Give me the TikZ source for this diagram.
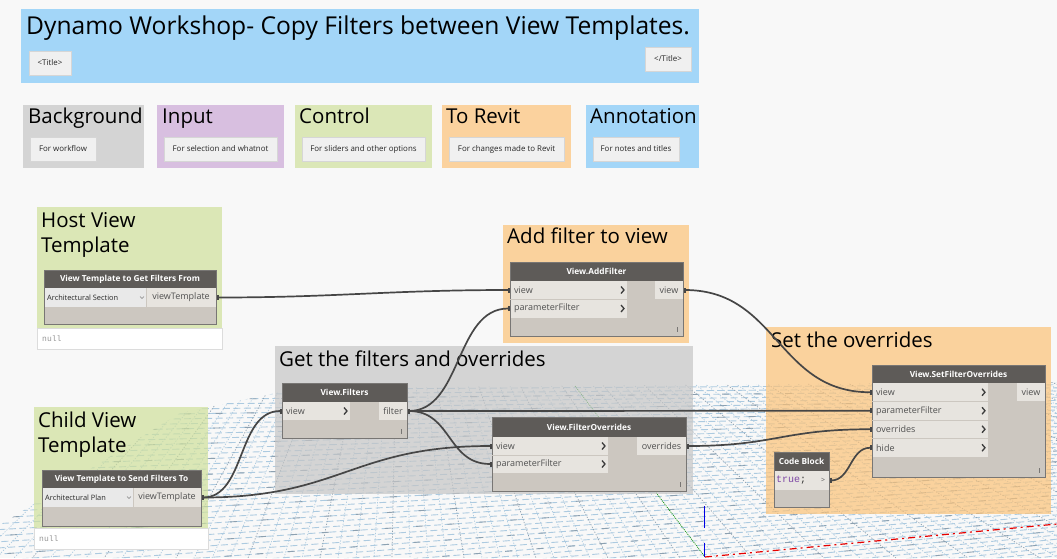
\documentclass[tikz,border=0pt]{standalone}
\usepackage{fontspec}
\setmainfont{Open Sans}
\newfontfamily\codefont{Liberation Mono}
\usetikzlibrary{arrows.meta}
\definecolor{pagebg}{RGB}{248,248,248}
\definecolor{annblue}{RGB}{163,214,248}
\definecolor{bggray}{RGB}{212,212,212}
\definecolor{inpurple}{RGB}{216,191,224}
\definecolor{ctrlgreen}{RGB}{219,231,183}
\definecolor{revorange}{RGB}{251,210,158}
\definecolor{wgreen}{RGB}{207,224,155}
\definecolor{worange}{RGB}{252,194,119}
\definecolor{wgray}{RGB}{197,197,197}
\definecolor{btnfill}{RGB}{240,240,240}
\definecolor{btnline}{RGB}{214,214,214}
\definecolor{nodebody}{RGB}{204,199,192}
\definecolor{nodehead}{RGB}{94,91,88}
\definecolor{nodeline}{RGB}{120,118,116}
\definecolor{rowfill}{RGB}{231,228,223}
\definecolor{ddfill}{RGB}{233,233,233}
\definecolor{portlbl}{RGB}{80,80,80}
\definecolor{wirec}{RGB}{70,70,70}
\definecolor{gridblue}{RGB}{172,202,224}
\definecolor{griddark}{RGB}{140,160,176}
\definecolor{nullgray}{RGB}{150,150,150}
\definecolor{nullline}{RGB}{220,220,220}
\definecolor{codepurple}{RGB}{125,70,165}
\definecolor{chevc}{RGB}{60,60,60}
\definecolor{axisgreen}{RGB}{0,140,0}
\definecolor{axisblue}{RGB}{0,0,230}
\definecolor{axisred}{RGB}{230,0,0}
\newcommand\pchev[2]{\draw[chevst] ({#1-3},{#2-3.5}) -- (#1,#2) -- ({#1-3},{#2+3.5});}
\newcommand\resmark[2]{\draw[draw=nodeline, line width=0.6pt] ({#1-6},{#2-9}) -- ({#1-6},{#2-4});}
\newcommand\ddvee[2]{\draw[draw=gray, line width=0.5pt] ({#1-2},{#2-1}) -- (#1,{#2+1}) -- ({#1+2},{#2-1});}
\tikzset{
 rbox/.style 2 args={anchor=north west, inner sep=0pt, outer sep=0pt, minimum width=#1pt, minimum height=#2pt},
 grp/.style={draw=none},
 wgrp/.style={fill opacity=0.7, draw=none},
 ghead/.style={anchor=base west, inner sep=0pt, font=\fontsize{20.5}{25}\selectfont, text=black},
 btn/.style={fill=btnfill, draw=btnline, line width=0.6pt, font=\fontsize{7.9}{9}\selectfont, text=black!85},
 nbody/.style={fill=nodebody},
 nframe/.style={draw=nodeline, line width=0.8pt},
 nhead/.style={fill=nodehead, text=white, font=\fontsize{8.3}{10}\selectfont\bfseries},
 nrow/.style={fill=rowfill, text=portlbl, font=\fontsize{9}{11}\selectfont},
 ddrow/.style={fill=ddfill},
 plbl/.style={anchor=west, inner sep=0pt, text=portlbl, font=\fontsize{9}{11}\selectfont},
 ddlbl/.style={anchor=west, inner sep=0pt, text=black!85, font=\fontsize{7.4}{9}\selectfont},
 nullbox/.style={fill=white, draw=nullline, line width=0.6pt},
 nulltxt/.style={anchor=west, inner sep=0pt, text=nullgray, font=\codefont\fontsize{8}{9}\selectfont},
 chevst/.style={draw=chevc, line width=1.3pt},
 wire/.style={draw=wirec, line width=1.7pt, arrows={Rectangle[length=2.5pt,width=5pt]-Rectangle[length=2.5pt,width=5pt]}},
 gridB/.style={line width=0.9pt},
 gridA/.style={line width=0.7pt, dash pattern=on 1.2pt off 1.6pt},
}
\begin{document}
\begin{tikzpicture}[x=1pt,y=-1pt]
\useasboundingbox (0,0) rectangle (1057,558);
\fill[pagebg] (0,0) rectangle (1057,558);
% ---------- perspective grid ----------
\begin{scope}
\clip (0,525) -- (180,413) -- (300,388) -- (1057,382) -- (1057,558) -- (0,558) -- cycle;
\foreach \k in {0,...,50} {
  \pgfmathsetmacro\yo{386+\k*5.0+\k*\k*0.02}
  \pgfmathsetmacro\ph{mod(\k*3.7,10.5)}
  \pgfmathsetmacro\phd{mod(\k*11.3,31.5)}
  \pgfmathtruncatemacro\m{mod(\k,3)}
  \draw[gridB, draw=gridblue, dash pattern=on 7pt off 3.5pt, dash phase=\ph pt] (0,\yo) -- (2700,375);
  \ifnum\m=0
    \draw[gridB, draw=griddark, dash pattern=on 7pt off 24.5pt, dash phase=\phd pt] (0,\yo) -- (2700,375);
  \fi
}
\foreach \k in {0,...,90} {
  \pgfmathsetmacro\xb{-40+\k*18}
  \pgfmathtruncatemacro\m{mod(\k,4)}
  \ifnum\m=0 \def\gc{griddark}\else\def\gc{gridblue}\fi
  \draw[gridA, draw=\gc] (400,150) -- (\xb,558);
}
\end{scope}
\draw[axisgreen, line width=0.7pt, dash pattern=on 1pt off 1pt] (575,386) -- (705,557);
\draw[axisblue, line width=1pt] (704,506) -- (704,528);
\draw[axisblue, line width=1pt] (704,543) -- (704,557);
\draw[axisred, line width=1.2pt, dash pattern=on 7pt off 4pt on 2pt off 4pt] (705,557) -- (1057,524);
% ---------- title and legend ----------
\node[grp, fill=annblue, rbox={678}{74}] (gtitle) at (21,9) {};
\node[anchor=base west, inner sep=0pt, font=\fontsize{24.6}{29}\selectfont] (ttitle) at (26,34) {Dynamo Workshop- Copy Filters between View Templates.};
\node[btn, rbox={42}{24}] (bt1) at (29,51) {<Title>};
\node[btn, rbox={46}{24}] (bt2) at (645,47) {</Title>};
\node[grp, fill=bggray, rbox={121}{63}] (gbg) at (23,105) {};
\node[ghead] (hbg) at (28,123) {Background};
\node[btn, rbox={66}{24}] (bbg) at (30,137) {For workflow};
\node[grp, fill=inpurple, rbox={127}{63}] (ginp) at (157,105) {};
\node[ghead] (hinp) at (162,123) {Input};
\node[btn, rbox={113}{24}] (binp) at (164,137) {For selection and whatnot};
\node[grp, fill=ctrlgreen, rbox={137}{63}] (gctl) at (295,105) {};
\node[ghead] (hctl) at (299,123) {Control};
\node[btn, rbox={123}{24}] (bctl) at (302,137) {For sliders and other options};
\node[grp, fill=revorange, rbox={129}{63}] (grev) at (442,105) {};
\node[ghead] (hrev) at (446,123) {To Revit};
\node[btn, rbox={115}{24}] (brev) at (449,137) {For changes made to Revit};
\node[grp, fill=annblue, rbox={113}{63}] (gann) at (586,105) {};
\node[ghead] (hann) at (590,123) {Annotation};
\node[btn, rbox={86}{24}] (bann) at (593,137) {For notes and titles};
% ---------- workflow groups ----------
\node[wgrp, fill=wgreen, rbox={185}{121}] (ghost) at (37,207) {};
\node[ghead] (hhost1) at (41,227) {Host View};
\node[ghead] (hhost2) at (41,252) {Template};
\node[wgrp, fill=wgreen, rbox={174}{121}] (gchild) at (34,407) {};
\node[ghead] (hchild1) at (38,427) {Child View};
\node[ghead] (hchild2) at (38,452) {Template};
\node[wgrp, fill=worange, rbox={186}{118}] (gadd) at (503,225) {};
\node[ghead] (hadd) at (507,243) {Add filter to view};
\node[wgrp, fill=wgray, rbox={418}{148}] (gget) at (275,346) {};
\node[ghead] (hget) at (279,366) {Get the filters and overrides};
\node[wgrp, fill=worange, rbox={285}{187}] (gset) at (766,327) {};
\node[ghead] (hset) at (771,347) {Set the overrides};
\node[nullbox, rbox={185}{21}] (nullhost) at (37,328) {};
\node[nulltxt] (nullhostt) at (42,338.5) {null};
\node[nullbox, rbox={174}{21}] (nullchild) at (34,528) {};
\node[nulltxt] (nullchildt) at (39,538.5) {null};
% ---------- Dynamo nodes ----------
% Host node
\node[nbody, rbox={172}{54}] (nhost) at (44,270) {};
\node[nhead, rbox={172}{18}] (nhosth) at (44,270) {View Template to Get Filters From};
\node[ddrow, rbox={102}{19}] (nhostdd) at (44,288) {};
\node[ddlbl] (nhostddt) at (47,297.5) {Architectural Section};
\node[nrow, rbox={70}{19}] (nhostout) at (146,288) {viewTemplate};
% Child node
\node[nbody, rbox={159}{56}] (nchild) at (42,470) {};
\node[nhead, rbox={159}{18}] (nchildh) at (42,470) {View Template to Send Filters To};
\node[ddrow, rbox={91}{19}] (nchilddd) at (42,488) {};
\node[ddlbl] (nchildddt) at (45,497.5) {Architectural Plan};
\node[nrow, rbox={68}{19}] (nchildout) at (133,488) {viewTemplate};
% View.AddFilter
\node[nbody, rbox={173}{74}] (naf) at (510,262) {};
\node[nhead, rbox={173}{19}] (nafh) at (510,262) {View.AddFilter};
\node[nrow, rbox={117}{18}] (afi1) at (510,281) {};
\node[nrow, rbox={117}{19}] (afi2) at (510,299) {};
\node[plbl] (afl1) at (514,290) {view};
\node[plbl] (afl2) at (514,308.5) {parameterFilter};
\node[nrow, rbox={28}{18}] (afo1) at (655,281) {view};
% View.Filters
\node[nbody, rbox={125}{55}] (nvf) at (282,383) {};
\node[nhead, rbox={125}{19}] (nvfh) at (282,383) {View.Filters};
\node[nrow, rbox={68}{18}] (vfi1) at (282,402) {};
\node[plbl] (vfl1) at (286,411) {view};
\node[nrow, rbox={28}{18}] (vfo1) at (379,402) {filter};
% View.FilterOverrides
\node[nbody, rbox={194}{74}] (nfo) at (492,417) {};
\node[nhead, rbox={194}{20}] (nfoh) at (492,417) {View.FilterOverrides};
\node[nrow, rbox={116}{18}] (foi1) at (492,437) {};
\node[nrow, rbox={116}{18}] (foi2) at (492,455) {};
\node[plbl] (fol1) at (496,446) {view};
\node[plbl] (fol2) at (496,464) {parameterFilter};
\node[nrow, rbox={49}{18}] (foo1) at (637,437) {overrides};
% View.SetFilterOverrides
\node[nbody, rbox={173}{112}] (nsf) at (872,365) {};
\node[nhead, rbox={173}{18}] (nsfh) at (872,365) {View.SetFilterOverrides};
\node[nrow, rbox={116}{18.5}] (sfi1) at (872,383) {};
\node[nrow, rbox={116}{18.5}] (sfi2) at (872,401.5) {};
\node[nrow, rbox={116}{18.5}] (sfi3) at (872,420) {};
\node[nrow, rbox={116}{18.5}] (sfi4) at (872,438.5) {};
\node[plbl] (sfl1) at (876,392.25) {view};
\node[plbl] (sfl2) at (876,410.75) {parameterFilter};
\node[plbl] (sfl3) at (876,429.25) {overrides};
\node[plbl] (sfl4) at (876,447.75) {hide};
\node[nrow, rbox={28}{18}] (sfo1) at (1017,383) {view};
% Code Block
\node[nbody, rbox={55}{55}] (ncb) at (774,452) {};
\node[nhead, rbox={55}{19}] (ncbh) at (774,452) {Code Block};
\node[nrow, rbox={43}{19}] (cbin) at (774,471) {};
\node[anchor=west, inner sep=0pt, font=\codefont\fontsize{10}{11}\selectfont] (cbt) at (776,480.5) {\textcolor{codepurple}{true}\textcolor{black!80}{;}};
\node[nrow, rbox={12}{19}, font=\fontsize{7}{8}\selectfont] (cbo) at (817,471) {>};
% ---------- wires ----------
\draw[wire] (nhostout.east) .. controls +(120,0) and +(-120,0) .. (afi1.west);
\draw[wire] (nchildout.east) .. controls +(45,0) and +(-45,0) .. (vfi1.west);
\draw[wire] (nchildout.east) .. controls +(140,0) and +(-140,0) .. (foi1.west);
\draw[wire] (vfo1.east) .. controls +(55,0) and +(-55,0) .. (afi2.west);
\draw[wire] (vfo1.east) .. controls +(200,0) and +(-200,0) .. (sfi2.west);
\draw[wire] (vfo1.east) .. controls +(45,0) and +(-45,0) .. (foi2.west);
\draw[wire] (afo1.east) .. controls +(95,0) and +(-95,0) .. (sfi1.west);
\draw[wire] (foo1.east) .. controls +(90,0) and +(-90,0) .. (sfi3.west);
\draw[wire] (cbo.east) .. controls +(22,0) and +(-22,0) .. (sfi4.west);
% ---------- frames, chevrons, marks ----------
\draw[nframe] (nhost.north west) rectangle (nhost.south east);
\draw[nframe] (nchild.north west) rectangle (nchild.south east);
\draw[nframe] (naf.north west) rectangle (naf.south east);
\draw[nframe] (nvf.north west) rectangle (nvf.south east);
\draw[nframe] (nfo.north west) rectangle (nfo.south east);
\draw[nframe] (nsf.north west) rectangle (nsf.south east);
\draw[nframe] (ncb.north west) rectangle (ncb.south east);
\draw[draw=nodebody, line width=0.6pt] (nhostdd.north east) -- (nhostdd.south east);
\draw[draw=nodebody, line width=0.6pt] (nchilddd.north east) -- (nchilddd.south east);
\draw[draw=nodebody, line width=0.6pt] (afi1.south west) -- (afi1.south east);
\draw[draw=nodebody, line width=0.6pt] (foi1.south west) -- (foi1.south east);
\draw[draw=nodebody, line width=0.6pt] (sfi1.south west) -- (sfi1.south east);
\draw[draw=nodebody, line width=0.6pt] (sfi2.south west) -- (sfi2.south east);
\draw[draw=nodebody, line width=0.6pt] (sfi3.south west) -- (sfi3.south east);
\ddvee{142}{297.5}
\ddvee{129}{497.5}
\pchev{624}{290}
\pchev{624}{308.5}
\pchev{347}{411}
\pchev{605}{446}
\pchev{605}{464}
\pchev{985}{392.25}
\pchev{985}{410.75}
\pchev{985}{429.25}
\pchev{985}{447.75}
\resmark{683}{336}
\resmark{407}{438}
\resmark{686}{491}
\resmark{1045}{477}
\end{tikzpicture}
\end{document}
